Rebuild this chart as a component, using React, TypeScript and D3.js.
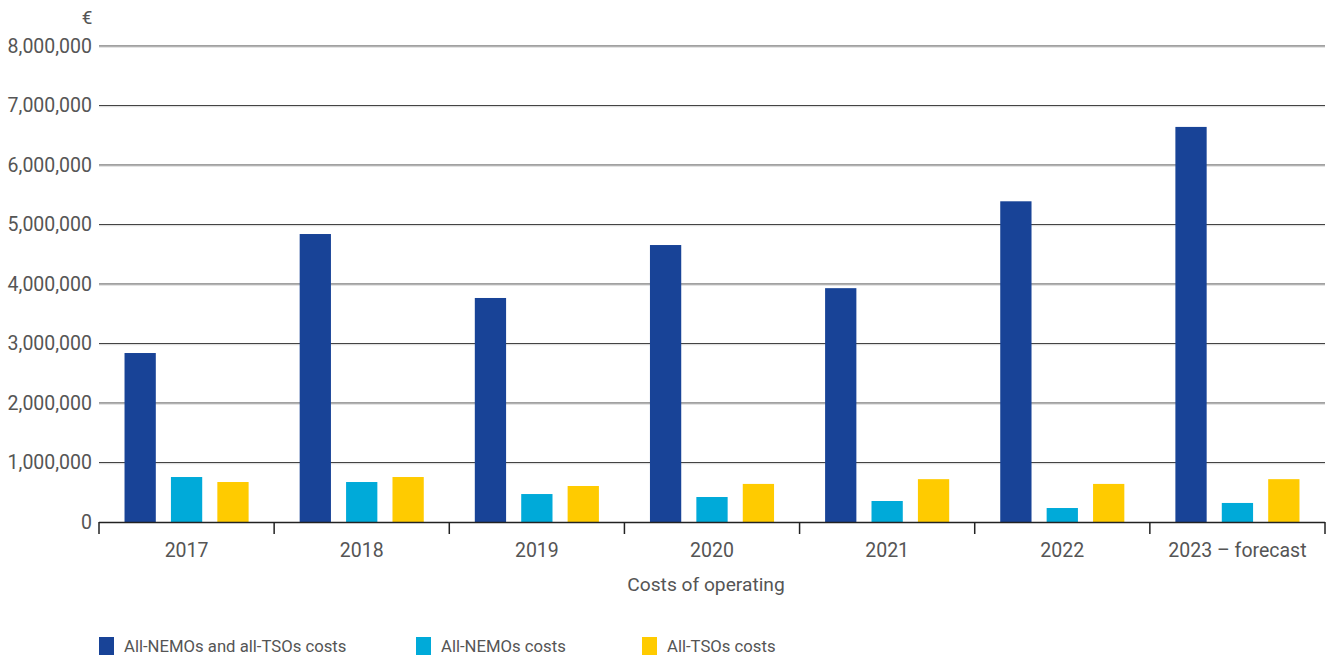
import React from "react";
import * as d3 from "d3";

const categories = ["2017", "2018", "2019", "2020", "2021", "2022", "2023 – forecast"];
const seriesNames = ["All-NEMOs and all-TSOs costs", "All-NEMOs costs", "All-TSOs costs"];
const seriesColors = ["#184397", "#00aad9", "#ffcb00"];
const allCosts = [2840000, 4840000, 3765000, 4655000, 3930000, 5390000, 6640000];
const nemoCosts = [756000, 672000, 470000, 420000, 353000, 235000, 320000];
const tsoCosts = [672000, 756000, 605000, 640000, 720000, 640000, 720000];
const yTicks = [0, 1000000, 2000000, 3000000, 4000000, 5000000, 6000000, 7000000, 8000000];
const xTitle = "Costs of operating";
const yUnit = "€";

export default function App() {
  const W = 1333, H = 659;
  const left = 99, right = 1325, top = 46, bottom = 522;
  const series = [allCosts, nemoCosts, tsoCosts];
  const x = d3.scaleBand().domain(categories).range([left, right]).paddingInner(0).paddingOuter(0);
  const inner = d3.scaleBand().domain(["0", "1", "2"]).range([0, x.bandwidth()]).paddingInner(0.326).paddingOuter(0.55);
  const y = d3.scaleLinear().domain([0, 8000000]).range([bottom, top]);
  const fmt = d3.format(",");
  const font = "Roboto, sans-serif";
  const txt = "#555555";
  const legendX = [99, 416, 642];
  return (
    <svg width={W} height={H} style={{ position: "absolute", left: 0, top: 0, background: "#fff" }} fontFamily={font}>
      {yTicks.map((t) => (
        <g key={t}>
          {t > 0 && <line x1={left} x2={right} y1={y(t)} y2={y(t)} stroke="#444" strokeWidth={1.2} />}
          {t > 0 && <line x1={left} x2={right} y1={y(t) + 1.2} y2={y(t) + 1.2} stroke="#d8d8d8" strokeWidth={1} />}
          <text x={92} y={y(t)} dy="0.35em" textAnchor="end" fontSize={19.5} fill={txt}>{fmt(t)}</text>
        </g>
      ))}
      <text x={87} y={17} dy="0.35em" textAnchor="middle" fontSize={19} fill={txt}>{yUnit}</text>
      {categories.map((c, i) => (
        <g key={c}>
          {series.map((s, j) => (
            <rect key={j} x={(x(c) as number) + (inner(String(j)) as number)} width={inner.bandwidth()} y={y(s[i])} height={y(0) - y(s[i])} fill={seriesColors[j]} />
          ))}
          <text x={(x(c) as number) + x.bandwidth() / 2} y={550} dy="0.35em" textAnchor="middle" fontSize={19.5} fill={txt}>{c}</text>
        </g>
      ))}
      <line x1={left} x2={right} y1={bottom + 0.5} y2={bottom + 0.5} stroke="#222" strokeWidth={1.5} />
      {d3.range(categories.length + 1).map((i) => {
        const xx = left + i * x.bandwidth();
        return <line key={i} x1={xx} x2={xx} y1={bottom} y2={bottom + 12} stroke="#222" strokeWidth={1.5} />;
      })}
      <text x={(left + right) / 2 - 6} y={584} dy="0.35em" textAnchor="middle" fontSize={19.2} fill={txt}>{xTitle}</text>
      {seriesNames.map((n, j) => (
        <g key={n}>
          <rect x={legendX[j]} y={637} width={15} height={18} fill={seriesColors[j]} />
          <text x={legendX[j] + 25} y={646} dy="0.35em" fontSize={16.7} fill={txt}>{n}</text>
        </g>
      ))}
    </svg>
  );
}
